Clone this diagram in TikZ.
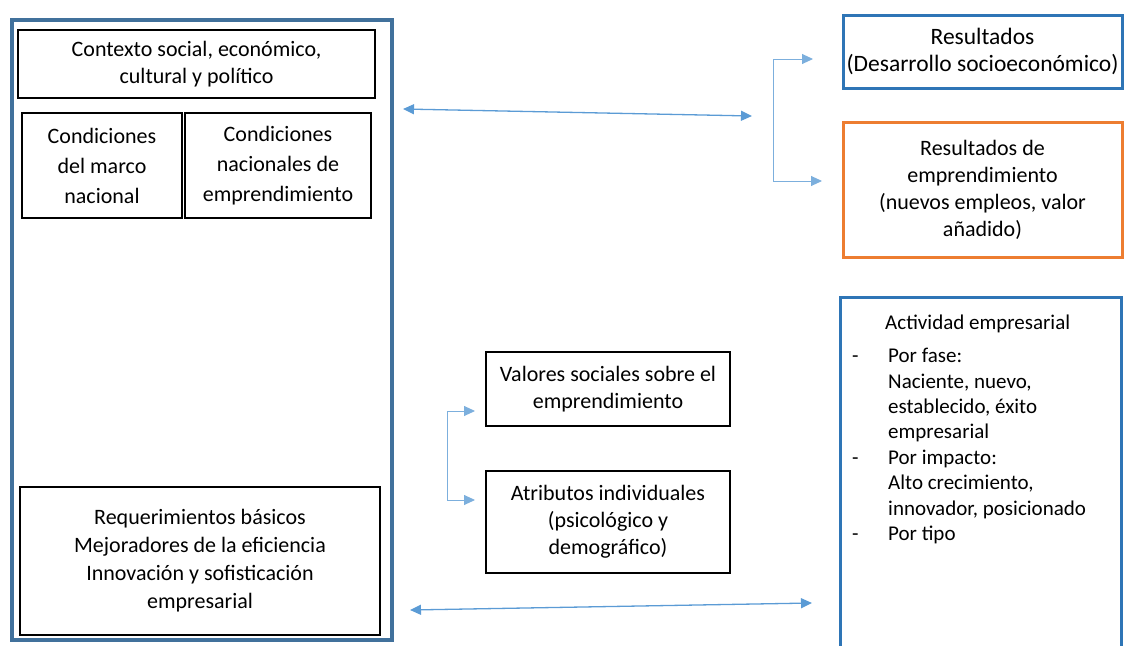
\documentclass[tikz,border=0pt]{standalone}
\usepackage{fontspec}
\setmainfont{Carlito}
\usetikzlibrary{arrows.meta}

\definecolor{frameblue}{HTML}{41719C}
\definecolor{resblue}{HTML}{2E75B6}
\definecolor{resorange}{HTML}{ED7D31}
\definecolor{arrowblue}{HTML}{5B9BD5}

\begin{document}
\begin{tikzpicture}[x=1pt, y=-1pt,
    every node/.style={font=\fontsize{22}{27}\selectfont, align=center, inner sep=0pt},
    box/.style={draw, line width=1.5pt, rectangle},
    conn/.style={draw=arrowblue, line width=1.3pt, {Triangle[length=11pt,width=10pt]}-{Triangle[length=11pt,width=10pt]}},
    bracket/.style={draw=arrowblue!80, line width=0.9pt, {Triangle[length=11pt,width=10pt]}-{Triangle[length=11pt,width=10pt]}}]
    \useasboundingbox (0,0) rectangle (1124,645);

    % Left frame
    \node[draw=frameblue, line width=4pt, minimum width=380pt, minimum height=620pt] (frame) at (202,330) {};
    \node[box, minimum width=357pt, minimum height=68pt] (ctx) at (196.5,64) {Contexto social, económico,\\cultural y político};
    \node[box, minimum width=160pt, minimum height=105pt] (marco) at (102,165.5) {Condiciones\\[3pt]del marco\\[3pt]nacional};
    \node[box, minimum width=186pt, minimum height=105pt] (nacional) at (278,165.5) {Condiciones\\[3pt]nacionales de\\[3pt]emprendimiento};
    \node[box, minimum width=360pt, minimum height=148pt] (req) at (200,561) {Requerimientos básicos\\[1pt]Mejoradores de la eficiencia\\[1pt]Innovación y sofisticación\\[1pt]empresarial};

    % Middle boxes
    \node[box, minimum width=244pt, minimum height=74pt] (valores) at (608,389) {Valores sociales sobre el\\emprendimiento};
    \node[box, minimum width=244pt, minimum height=102pt] (atrib) at (608,522) {Atributos individuales\\(psicológico y\\demográfico)};

    % Right boxes
    \node[draw=resblue, line width=3pt, minimum width=279pt, minimum height=73pt, font=\fontsize{23.5}{27}\selectfont] (res) at (982.5,51.5) {Resultados\\(Desarrollo socioeconómico)};
    \node[draw=resorange, line width=3pt, minimum width=279pt, minimum height=135pt] (resemp) at (982.5,189.5) {Resultados de\\emprendimiento\\(nuevos empleos, valor\\añadido)};
    \node[draw=resblue, line width=3pt, minimum width=281pt, minimum height=363pt] (activ) at (980.5,478.5) {};
    \node[anchor=north west, align=left, font=\fontsize{21}{26}\selectfont] (activtxt) at (852,311) {%
        \renewcommand{\arraystretch}{0.98}%
        \begin{tabular}{@{}p{36pt}@{}l@{}}
         & \hspace*{-3pt}Actividad empresarial\\[8pt]
        - & Por fase:\\
         & Naciente, nuevo,\\
         & establecido, éxito\\
         & empresarial\\
        - & Por impacto:\\
         & Alto crecimiento,\\
         & innovador, posicionado\\
        - & Por tipo
        \end{tabular}};

    % Connectors
    \coordinate (ta) at (403,109);
    \coordinate (tb) at (752,116);
    \coordinate (r1) at (813,59);
    \coordinate (bk1) at (773,59);
    \coordinate (bk2) at (773,181);
    \coordinate (r2) at (822,181);
    \coordinate (v1) at (475,411);
    \coordinate (sb1) at (447,411);
    \coordinate (sb2) at (447,500);
    \coordinate (a1) at (475,500);
    \coordinate (ba) at (410,610);
    \coordinate (bb) at (812,603);

    \draw[conn] (ta) -- (tb);
    \draw[bracket] (r1) -- (bk1) -- (bk2) -- (r2);
    \draw[bracket] (v1) -- (sb1) -- (sb2) -- (a1);
    \draw[conn] (ba) -- (bb);
\end{tikzpicture}
\end{document}
